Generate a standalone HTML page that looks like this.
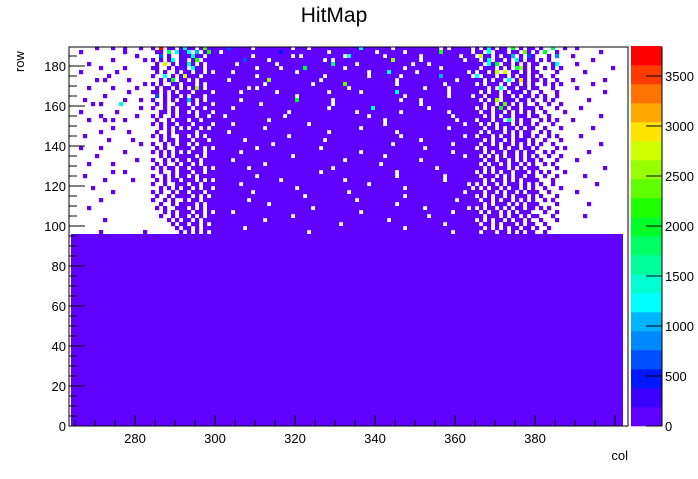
<!DOCTYPE html>
<html><head><meta charset="utf-8"><style>
body{margin:0;background:#fff;}
svg text{font-family:"Liberation Sans",Arial,sans-serif;}
</style></head><body>
<svg id="c" width="698" height="474" xmlns="http://www.w3.org/2000/svg">
<text x="334" y="22" font-size="21" text-anchor="middle">HitMap</text>
<text transform="translate(24,72) rotate(-90)" font-size="13" text-anchor="start">row</text>
<text x="628" y="460" font-size="13" text-anchor="end">col</text>
<g id="cells"></g>
<g id="axes"></g>
<g id="cbar"></g>
</svg>
<script>
// ---- data ----
const colMin = 264, colMax = 401;
const lowRowMax = 96;
const lowValue = 80;
const zoneWidths = [20, 8, 8, 65, 15, 8, 14];
// upper block, 2-row bins from row 188 down to 96; ' ' empty, '0'..'9','a'..'j' level
const upperRows = [
["      0   0  0   0  ","0 j 00 0","700 0c00","000300000 000000000 000 00000000000060000000 00000000000 0 00000 0","0 060 00 a 0 00"," 0  9  0","  0           "],
["  0          0      "," 00 9 60","06 5 0b0","0 00000000000000200000000000 00000000000 000000 00000000b0000000 00","00 6 000 00 c0 ","0 a  0  ","        0     "],
["                0   ","  3 0  0","00600 00","000000000 000000000 0 0000000000 600000000 00000000 000000000 0000"," e00 0 005 0 30","   0 4  "," 0            "],
["          0       0 ","0 0 06 0","0 0b 000","0000000300000 0000000000000 0 00000000000000d000000 0000000000 000","0 06 00 0 70 00"," 0 0    ","      0       "],
["    0               "," 0 e 0 0","080 0 00","00000 000000000 0000000000000900000 0000000000000 000 00000000000 ","00 60a 00 0 0 0","0   06  ","  0           "],
["       0     0      ","00  0 00","0 600 00","0000000000 00000 00000a000000000 00000000000000 00000000 0000000000","0 000 0 0 9d0 0","  0 0 0 ","           0  "],
["  0        0        "," 0 0  0 ","00 00 0 ","0000 000000000000000 00000000000000000 00006000000 000000000000 000"," 00 0e e 00 0 0","0    0  ","    0         "],
["         0          ","0  6 0 0","e000 000","0000000000 0000000000000000 0000000000 0000000 00000000050000000 0","6 000 00 0 00 0"," 0  0   ","              "],
["      0 0     0     ","  0 0a 0","0 0 0000","000 000000000d000000000000 000000000000000000 00000000000000 000000","00 0 00 6 0f0 0","0 0  0  "," 0       0    "],
["                  0 ","0 0  00 ","000 0 00","000000000000 00000000000 0000000c000000000000 00000000000 00000000"," 0 000 0 00 0 0","  0 0 0 ","      0       "],
["    0     0     0   "," 0 00 0 ","0 0d0 00","00000000 0 0000000000000000000000 000000000000000000 00000 0000000","000 0 6 00 00 0","0   0   ","  0           "],
["              0     ","00 0 0 0","00 0000 ","000000 00000000 000000000000 0000000 000000006000000000000 0000000","0 0 00 0 000 0 "," 0   0  ","         0    "],
["        0           "," 3 0 00 ","0 000 00","00000000000000000000 00000000000000000000000000 0000000000 00000 0","00 000 00 0 00 ","0 0  0  ","              "],
["   0         0   0  ","0  0 0 0","050 0 00","000000 0000000000000a00000000 0000000000000000 0000 0000000000000 ","0 0 0d 000 00 0","  0 0   ","     0        "],
["     0 0    7       "," 0 0  00","0 0 000 ","00000000000 00000000000000000 000000000000000000000 0000000000000 ","00 00 0c0 0 0 ","0  0  0 ","              "],
["                 0  ","0  0 0 0","00 00 00","0000 00000000000000000000000 000000000060000000000000 000000000000"," 0 0 0b0 00 000"," 0   0  ","   0          "],
["  0        0        ","  00 0 0","0 0 000 ","000000000000000000 0000000000000000 0000000000 00000000000 0000000 ","0 00 00 0 0 0 0","  0    0","              "],
["       0        0   ","0 0  0 0","000 00 0","00 00000000000000 00000000000000000000 00000000000000000000 000000","00 0 0 00 000 0","0  0    ","        0     "],
["    0   0 0  0      "," 0  0 00","0 00 000","0000000000000 0000000000000000000000000000 00000000000000000 00000"," 000 00 8 0 00 "," 0 0 0  "," 0            "],
["                    ","0 0 00 0","00 0000 ","0000 000000000000000000 000000000000000000 0000000000000000000 000","0 0 0 000 0 00 ","0   0   ","              "],
["          0         ","  0 0 0 ","0 00 0 0","000000000000 00000000000000000000000 000000000000000000000 0000000","00 00 0 00 0 00","  0   0 ","      0       "],
["       0      0     "," 0  0 00","000 0000","000 000000000000000000000000 0000000000000000 00000000000000000000","0 0 000 0 0 00 "," 0 0    ","              "],
["   0                ","0 0 0  0","0 0 0 00","000000000000000000 000000000000000000000000000 000000000000000 000"," 000 0 00 0 00 ","0  0 0  ","   0          "],
["         0     0    ","  0 00 0","00 000 0","0000000 0000000000000000000 00000000000000000000000 0000000000000 ","00 0 00 0 000 0","  0   0 ","              "],
["                 0  ","0  0 0 0","0 0 0000","00000000000000 00000000000000000000000000000 00000000000000 000000","0 00 0 00 0 0 0"," 0  0   ","        0     "],
["  0    0            "," 0 0  00","00 00 0 ","0000000000 000000000000000 0000000000000000000000000 0000000000000"," 0 000 0 00 00 ","0    0 0","              "],
["             0      ","0 0 0 0 ","0 000 00","000000 00000000000000000000000000000 0000000000000000000000 000000","00 0 00 00 0 00","  0 0   ","     0        "],
["      0             ","  0 0 00","000 0 00","0000000000000000000 0000000000000000000000 0000000000000000000 000","0 0 0 0 00 0 0 ","0  0  0 ","              "],
["                0   ","0  0 0 0","0 00 000","0000 000000000000000000000000000 000000000000000000 0000000000000 ","00 00 00 0 0 00"," 0   0  ","  0           "],
["    0     0         "," 0 0  0 ","00 0 000","000000000000 0000000000000000000000000000 000000000000000000000000","0 0 00 0 00 0 0","  0 0   ","              "],
["                    ","0 0 00 0","0 000 0 ","00000000 00000000000000000000 0000000000000000000000000 000000000 ","00 0 000 0 0 00","0    0  ","         0    "],
["          0  0      ","  0  0 0","00 00 00","00000000000000000000000000 000000000000000000 0000000000000000000 "," 0 0 0 00 000 0"," 0 0   0","              "],
["   0                ","0  0 0 0","0 0 0000","0000000000 0000000000000000000000000000000000 00000000000 00000000","0 000 0 0 00 00","  0  0  ","    0         "],
["        0      0    "," 0 0 00 ","000 0 0 ","0000000000000000 000000000000000 000000000000000000000000 00000000","00 0 00 0 0 000","0   0   ","              "],
["                    ","0  0  00","0 00 000","000000 0000000000000000000000000000000 000000000000000000000000 00"," 0 00 0 000 0 0"," 0  0   ","       0      "],
["     0              ","  0 0 0 ","00 0 00 ","00000000000000000000 00000000000000000000000000 0000000000000000 0","0 0 00 0 00 0 0","  0   0 ","              "],
["          0         ","0 0  0 0","0 000 00","000000000 00000000000000000000000 0000000000000000000000000000 000","00 00 0 00 0 00","0  0    ","  0           "],
["                    "," 0  0 00","00 0 0 0","0000000000000000000000 000000000000000000000000 000000000000000000"," 0 0 00 0 000 0"," 0   0  ","              "],
["       0            ","0  0 0  ","0 00 000","00000000 00000000000000000000000000 000000000000000000000000 00000","0 00 0 00 0 0 0","  0 0   ","              "],
["                    ","  0  0 0","000 0 00","0000000000000 0000000000000000000000000000000 00000000000000000000","00 0 000 0 0 00","0    0  ","     0        "],
["    0               "," 0 0  00","0 0 0 00","000000000000000000000000 000000000000000000000000000 0000000000 00"," 0 00 0 0 00 00"," 0 0    ","              "],
["                    ","   0 0 0","00 00 0 ","0000 0000000000000000000000000000000 0000000000000000000000 000000","0 0 00 0 0 000 ","  0  0  ","              "],
["                    ","  0  0 0","0 0 0 00","0000000000000000000 000000000000000000000000000000000 00000000000 ","00 000 0 00 0 0","0   0   ","    0         "],
["        0           ","    0 0 ","00 0 000","000000000000 000000000000000000000000000000 0000000000000000000000"," 0 0 00 0 00 0 "," 0   0  ","              "],
["                    ","     0 0","0 00 0 0","0000000000000000000000000000000 0000000000000000000000000 00000000","0 00 0 000 0 00","  0     ","              "],
["                    ","      0 ","00 0 000","0000000 000000000000000000000000000000000000000 000000000000000000","00 0 0 0 00 00 ","0  0    ","              "],
["       0          0 ","       0"," 0 0 0 0","00000000000000000000000 00000000000000000000000000000000000 000000","0 000 00 0 0 00","  0     ","              "]
];
// colour palette & axis labels
const levelStep = 190;
const cbarTicks = [0, 500, 1000, 1500, 2000, 2500, 3000, 3500];
const xTicks = [280, 300, 320, 340, 360, 380];
const yTicks = [0, 20, 40, 60, 80, 100, 120, 140, 160, 180];
const palette = ["#6000ff","#3a00ff","#0018ff","#0050ff","#0088ff","#00b4ff","#00ffff","#00ffd0","#00ff9c","#00ff64","#00ff28","#20ff00","#60ff00","#98ff00","#d0ff00","#ffe400","#ffa800","#ff7400","#ff3c00","#ff0000"];

// ---- scales ----
const NS = "http://www.w3.org/2000/svg";
const fx0 = 69, fx1 = 628, fy0 = 47, fy1 = 426;
const xDomain = [263.5, 403.25], yDomain = [0, 189.5];
const xs = v => fx0 + (v - xDomain[0]) / (xDomain[1] - xDomain[0]) * (fx1 - fx0);
const ys = v => fy1 - (v - yDomain[0]) / (yDomain[1] - yDomain[0]) * (fy1 - fy0);
const cbMax = 3790;
const cs = v => fy1 - v / cbMax * (fy1 - fy0);
function colorFor(v){ return palette[Math.min(palette.length-1, Math.floor(v/levelStep))]; }
function mk(tag, attrs, parent){ const e=document.createElementNS(NS,tag); for(const k in attrs) e.setAttribute(k,attrs[k]); parent.appendChild(e); return e; }

const cells = document.getElementById('cells');
const low = mk('rect',{x:xs(colMin),y:ys(lowRowMax),width:xs(colMax+1)-xs(colMin),height:ys(0)-ys(lowRowMax),fill:colorFor(lowValue)},cells);


const lv = ch => ch===' ' ? -1 : parseInt(ch, 36);
upperRows.forEach((zones, ri) => {
  let s = '';
  zones.forEach((z, zi) => { s += (z + ' '.repeat(zoneWidths[zi])).slice(0, zoneWidths[zi]); });
  const rowTop = 190 - ri*2, rowBot = rowTop - 2;
  for (let i = 0; i < s.length; i++) {
    const l = lv(s[i]); if (l < 0 || isNaN(l)) continue;
    const col = colMin + i;
    const v = l*levelStep + levelStep/2;
    const top = Math.min(rowTop, yDomain[1]);
    const r = mk('rect',{x:xs(col),y:ys(top),width:xs(col+1)-xs(col)+0.2,height:ys(rowBot)-ys(top)+0.2,fill:colorFor(v)},cells);
    
    
  }
});

// ---- axes ----
const ax = document.getElementById('axes');
mk('rect',{x:fx0,y:fy0,width:fx1-fx0,height:fy1-fy0,fill:'none',stroke:'#000','stroke-width':1},ax);
for (let v = 265; v <= 400; v += 5) {
  const major = v % 20 === 0;
  mk('line',{x1:xs(v),x2:xs(v),y1:fy1,y2:fy1-(major?11:6),stroke:'#000'},ax);
}
xTicks.forEach(v => {
  const t = mk('text',{x:xs(v),y:fy1+17,'font-size':13,'text-anchor':'middle'},ax);
  t.textContent = v;
  
  
});
for (let v = 0; v <= 185; v += 5) {
  const major = v % 20 === 0;
  mk('line',{x1:fx0,x2:fx0+(major?16:8),y1:ys(v),y2:ys(v),stroke:'#000'},ax);
}
yTicks.forEach(v => {
  const t = mk('text',{x:fx0-3,y:ys(v)+5,'font-size':13,'text-anchor':'end'},ax);
  t.textContent = v;
  
  
});

// ---- colour bar ----
const cb = document.getElementById('cbar');
const cbx0 = 631, cbx1 = 662;
palette.forEach((c, i) => {
  const r = mk('rect',{x:cbx0,y:cs((i+1)*levelStep),width:cbx1-cbx0,height:cs(i*levelStep)-cs((i+1)*levelStep)+0.3,fill:c},cb);
  
  
});
mk('line',{x1:cbx1,x2:cbx1,y1:fy0,y2:fy1,stroke:'#000','stroke-width':1},cb);
cbarTicks.forEach(v => {
  mk('line',{x1:cbx1-16,x2:cbx1,y1:cs(v),y2:cs(v),stroke:'#000'},cb);
  const t = mk('text',{x:cbx1+3,y:cs(v)+5,'font-size':13},cb);
  t.textContent = v;
  
  
});
</script>
</body></html>
